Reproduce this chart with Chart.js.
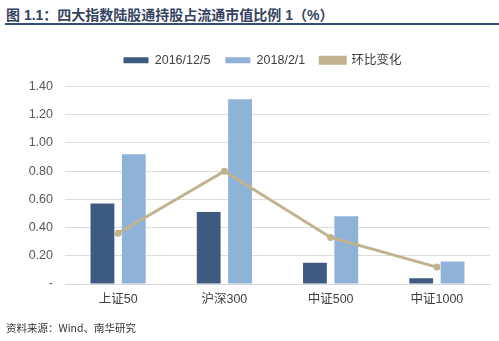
<!DOCTYPE html>
<html>
<head>
<meta charset="utf-8">
<script src="https://cdn.jsdelivr.net/npm/chart.js@4"></script>
<style>
  body { margin: 0; width: 499px; height: 341px; background: #fff; position: relative; overflow: hidden; font-family: "Liberation Sans", "Noto Sans CJK SC", sans-serif; }
  #title { position: absolute; left: 6px; top: 4px; font-size: 14px; font-weight: bold; color: #34435f; font-family: "Liberation Sans", "Noto Sans CJK SC", sans-serif; white-space: nowrap; }
  #rule { position: absolute; left: 5px; right: 0; top: 23px; height: 2px; background: #34507a; }
  #source { position: absolute; left: 6px; top: 320px; font-size: 10.5px; color: #333; font-family: "Noto Sans CJK SC", sans-serif; white-space: nowrap; }
  #wrap { position: absolute; left: 0; top: 0; width: 499px; height: 341px; }
</style>
</head>
<body>
<div id="title">图 1.1：四大指数陆股通持股占流通市值比例 1（%）</div>
<div id="rule"></div>
<div id="wrap"><canvas id="chart" width="499" height="341"></canvas></div>
<div id="source">资料来源：Wind、南华研究</div>
<script>
const categories = ['上证50', '沪深300', '中证500', '中证1000'];
const series2016 = [0.57, 0.51, 0.15, 0.04];
const series2018 = [0.92, 1.31, 0.48, 0.16];
const changeRatio = [0.36, 0.80, 0.33, 0.12];

const legendShift = 15;

// push the plot area down below the legend, and nudge legend right a bit
const legendTweak = {
    id: 'legendTweak',
    beforeInit(chart) {
        const lg = chart.legend;
        const fit = lg.fit;
        lg.fit = function() {
            fit.bind(lg)();
            this.height += 10;
        };
        const draw = lg.draw;
        lg.draw = function() {
            const c = this.ctx;
            c.save();
            c.translate(legendShift, 0);
            draw.bind(lg)();
            c.restore();
        };
    }
};

// little dot in the middle of the line legend marker
const legendDot = {
    id: 'legendDot',
    afterDraw(chart) {
        const boxes = chart.legend.legendHitBoxes;
        if (!boxes || !boxes[2]) return;
        const b = boxes[2];
        const ctx = chart.ctx;
        ctx.save();
        ctx.fillStyle = '#c2b38f';
        ctx.beginPath();
        ctx.arc(b.left + legendShift + 13, b.top + b.height / 2, 3, 0, Math.PI * 2);
        ctx.fill();
        ctx.restore();
    }
};

const ctx = document.getElementById('chart').getContext('2d');
new Chart(ctx, {
    data: {
        labels: categories,
        datasets: [
            {
                type: 'line',
                label: '环比变化',
                data: changeRatio,
                borderColor: '#c2b38f',
                backgroundColor: '#c2b38f',
                borderWidth: 3,
                pointRadius: 3.5,
                pointBackgroundColor: '#c2b38f',
                pointBorderWidth: 0,
                tension: 0,
                order: 0
            },
            {
                type: 'bar',
                label: '2016/12/5',
                data: series2016,
                backgroundColor: '#3f5a80',
                categoryPercentage: 0.59,
                barPercentage: 0.76,
                order: 1
            },
            {
                type: 'bar',
                label: '2018/2/1',
                data: series2018,
                backgroundColor: '#8fb2d8',
                categoryPercentage: 0.59,
                barPercentage: 0.76,
                order: 1
            }
        ]
    },
    options: {
        responsive: false,
        animation: false,
        layout: { padding: { left: 5, right: 9, top: 39, bottom: 26 } },
        plugins: {
            legend: {
                position: 'top',
                labels: {
                    boxWidth: 25,
                    boxHeight: 6,
                    padding: 15,
                    color: '#404040',
                    font: { size: 12.5, family: "'Liberation Sans', 'Noto Sans CJK SC', sans-serif" },
                    sort: (a, b) => {
                        const ord = ['2016/12/5', '2018/2/1', '环比变化'];
                        return ord.indexOf(a.text) - ord.indexOf(b.text);
                    }
                }
            },
            tooltip: { enabled: false }
        },
        scales: {
            x: {
                grid: { display: false, drawTicks: false },
                border: { display: true, color: '#d9d9d9' },
                ticks: {
                    padding: 8,
                    color: '#404040',
                    font: { size: 12.5, family: "'Liberation Sans', 'Noto Sans CJK SC', sans-serif" }
                }
            },
            y: {
                min: 0,
                max: 1.4,
                afterFit: (s) => { s.width = 60; },
                grid: { color: '#dedede', drawTicks: false },
                border: { display: false },
                ticks: {
                    stepSize: 0.2,
                    padding: 12,
                    color: '#595959',
                    font: { size: 12.5, family: "'Liberation Sans', sans-serif" },
                    callback: (v) => v === 0 ? '-' : v.toFixed(2)
                }
            }
        }
    },
    plugins: [legendTweak, legendDot]
});
</script>
</body>
</html>
